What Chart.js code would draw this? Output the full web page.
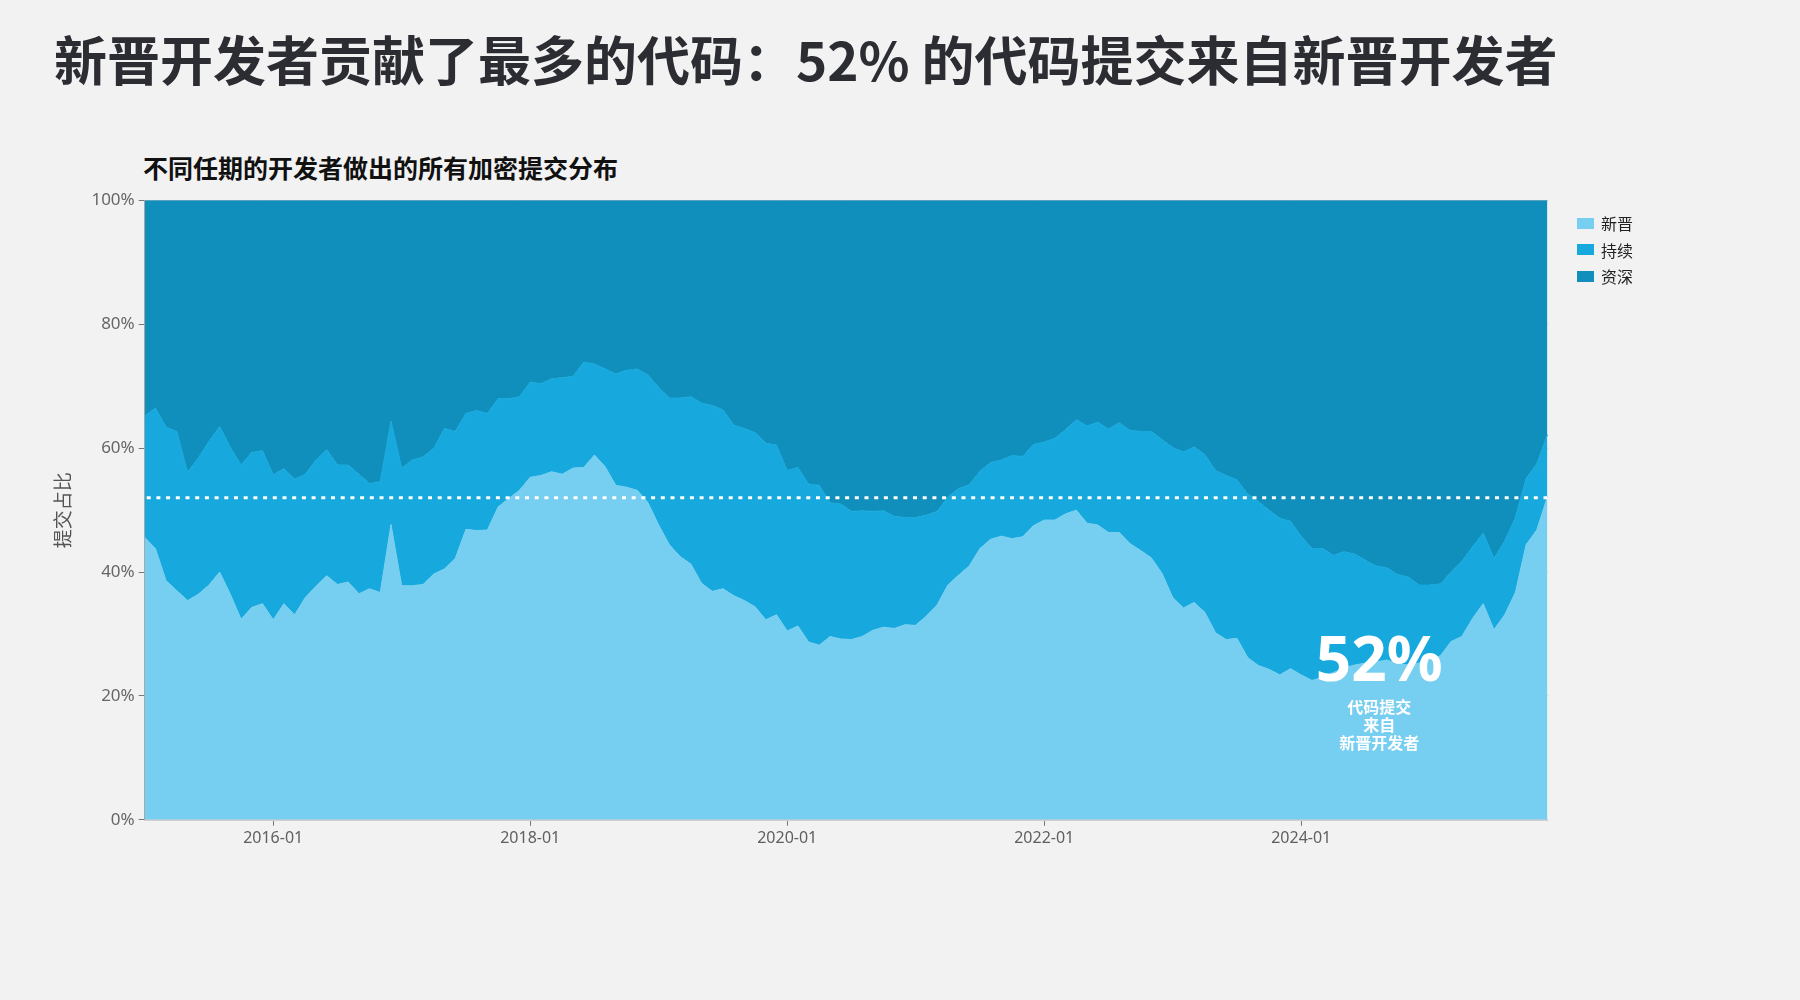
<!DOCTYPE html>
<html lang="zh-CN">
<head>
<meta charset="utf-8">
<script src="https://cdn.jsdelivr.net/npm/chart.js@4/dist/chart.umd.min.js"></script>
<style>
  html, body { margin: 0; padding: 0; background: #f2f2f2; }
  #wrap { position: relative; width: 1800px; height: 1000px; overflow: hidden; }
  #title { position: absolute; left: 54px; top: 32px; margin: 0; font: 700 53px/53px 'Noto Sans CJK SC', 'Noto Sans', sans-serif; color: #2b2d33; white-space: nowrap; }
  #subtitle { position: absolute; left: 143px; top: 155px; margin: 0; font: 700 25px/25px 'Noto Sans CJK SC', sans-serif; color: #111; white-space: nowrap; }
  #chart { position: absolute; left: 0; top: 0; }
  #legend { position: absolute; left: 1577px; top: 213px; font: 400 16px/16px 'Noto Sans CJK SC', sans-serif; color: #222; }
  .li { display: flex; align-items: center; height: 20px; margin-bottom: 6.5px; }
  .sw { width: 17px; height: 11px; margin-right: 7px; }
</style>
</head>
<body>
<div id="wrap">
  <h1 id="title">新晋开发者贡献了最多的代码：52% 的代码提交来自新晋开发者</h1>
  <div id="subtitle">不同任期的开发者做出的所有加密提交分布</div>
  <canvas id="chart" width="1800" height="1000"></canvas>
  <div id="legend"></div>
</div>
<script>
// ---- categories (monthly, 2015-01 .. 2025-12) ----
const months = [];
for (let y = 2015; y <= 2025; y++) for (let m = 1; m <= 12; m++) months.push(y + '-' + String(m).padStart(2, '0'));

const xTickLabels = ['2016-01', '2018-01', '2020-01', '2022-01', '2024-01'];
const yTickValues = [0, 20, 40, 60, 80, 100];
const seriesNames = ['新晋', '持续', '资深'];
const seriesColors = ['#76cef0', '#17a9dd', '#118fbc'];
const overallNewShare = 52;

// share of commits (%) by tenure
const newDev = [
  45.6, 43.8, 38.6, 37.0, 35.4, 36.4, 37.9, 40.0, 36.4, 32.4, 34.3, 34.9,
  32.3, 34.9, 33.1, 35.9, 37.7, 39.4, 38.0, 38.4, 36.5, 37.3, 36.7, 47.7,
  37.8, 37.8, 38.0, 39.7, 40.5, 42.2, 46.9, 46.7, 46.8, 50.5, 51.9, 53.2,
  55.3, 55.6, 56.2, 55.8, 56.8, 56.9, 58.9, 57.0, 54.0, 53.7, 53.2, 51.2,
  47.6, 44.4, 42.5, 41.3, 38.2, 36.9, 37.3, 36.2, 35.4, 34.4, 32.3, 33.1,
  30.5, 31.3, 28.7, 28.2, 29.6, 29.2, 29.1, 29.6, 30.6, 31.1, 30.9, 31.5,
  31.4, 32.9, 34.7, 37.9, 39.5, 41.0, 43.8, 45.3, 45.8, 45.4, 45.7, 47.5,
  48.4, 48.4, 49.4, 50.0, 47.9, 47.6, 46.4, 46.4, 44.6, 43.5, 42.3, 39.8,
  35.9, 34.2, 35.1, 33.5, 30.2, 29.1, 29.3, 26.2, 24.9, 24.3, 23.4, 24.4,
  23.4, 22.5, 23.0, 23.8, 24.5, 25.0, 25.3, 25.5, 25.8, 25.2, 25.0, 25.3,
  25.8, 26.5, 28.8, 29.6, 32.5, 34.9, 30.7, 33.1, 36.7, 44.4, 46.8, 52.2
];
const sustainedDev = [
  19.6, 22.7, 24.8, 25.7, 20.7, 22.0, 23.2, 23.5, 23.7, 24.9, 25.0, 24.7,
  23.4, 21.8, 21.9, 19.9, 20.4, 20.4, 19.3, 18.9, 19.3, 17.0, 17.9, 16.7,
  19.0, 20.3, 20.6, 20.3, 22.7, 20.5, 18.7, 19.4, 18.8, 17.5, 16.1, 15.1,
  15.4, 14.8, 15.0, 15.6, 14.8, 17.0, 14.7, 15.8, 18.0, 18.9, 19.6, 20.6,
  22.2, 23.7, 25.6, 27.0, 29.1, 30.0, 28.9, 27.5, 27.8, 28.1, 28.5, 27.4,
  25.9, 25.6, 25.5, 25.8, 21.6, 21.8, 20.7, 20.3, 19.2, 18.8, 18.1, 17.3,
  17.4, 16.3, 15.1, 14.2, 14.0, 13.1, 12.5, 12.4, 12.3, 13.4, 13.0, 13.1,
  12.6, 13.2, 13.6, 14.6, 15.7, 16.6, 16.7, 17.7, 18.3, 19.2, 20.4, 21.6,
  24.2, 25.2, 25.1, 25.5, 26.2, 26.5, 25.6, 26.4, 26.5, 25.7, 25.3, 23.8,
  22.4, 21.3, 20.8, 18.9, 18.8, 17.9, 16.6, 15.5, 14.9, 14.4, 14.2, 12.6,
  12.1, 11.6, 11.2, 12.1, 11.6, 11.4, 11.5, 11.9, 12.1, 10.7, 10.7, 10.0
];
const seniorDev = [
  34.8, 33.5, 36.6, 37.3, 43.9, 41.6, 38.9, 36.5, 39.9, 42.7, 40.7, 40.4,
  44.3, 43.3, 45.0, 44.2, 41.9, 40.2, 42.7, 42.7, 44.2, 45.7, 45.4, 35.6,
  43.2, 41.9, 41.4, 40.0, 36.8, 37.3, 34.4, 33.9, 34.4, 32.0, 32.0, 31.7,
  29.3, 29.6, 28.8, 28.6, 28.4, 26.1, 26.4, 27.2, 28.0, 27.4, 27.2, 28.2,
  30.2, 31.9, 31.9, 31.7, 32.7, 33.1, 33.8, 36.3, 36.8, 37.5, 39.2, 39.5,
  43.6, 43.1, 45.8, 46.0, 48.8, 49.0, 50.2, 50.1, 50.2, 50.1, 51.0, 51.2,
  51.2, 50.8, 50.2, 47.9, 46.5, 45.9, 43.7, 42.3, 41.9, 41.2, 41.3, 39.4,
  39.0, 38.4, 37.0, 35.4, 36.4, 35.8, 36.9, 35.9, 37.1, 37.3, 37.3, 38.6,
  39.9, 40.6, 39.8, 41.0, 43.6, 44.4, 45.1, 47.4, 48.6, 50.0, 51.3, 51.8,
  54.2, 56.2, 56.2, 57.3, 56.7, 57.1, 58.1, 59.0, 59.3, 60.4, 60.8, 62.1,
  62.1, 61.9, 60.0, 58.3, 55.9, 53.7, 57.8, 55.0, 51.2, 44.9, 42.5, 37.8
];

const LATIN = "'Noto Sans', 'Noto Sans CJK SC', sans-serif";
const CJK = "'Noto Sans CJK SC', sans-serif";

function ds(label, data, color, fill) {
  return { label, data, backgroundColor: color, borderColor: color, borderWidth: 1,
           fill, pointRadius: 0, pointHoverRadius: 0, tension: 0 };
}

const overlay = {
  id: 'overlay',
  afterDraw(chart) {
    const { ctx, chartArea: a, scales } = chart;
    const y = scales.y.getPixelForValue(overallNewShare);
    ctx.save();
    ctx.strokeStyle = '#ffffff';
    ctx.lineWidth = 2.8;
    ctx.setLineDash([4, 5.7]);
    ctx.beginPath();
    ctx.moveTo(a.left + 2, y);
    ctx.lineTo(a.right, y);
    ctx.stroke();
    ctx.setLineDash([]);
    // annotation
    const cx = a.left + (a.right - a.left) * 0.88;
    ctx.fillStyle = '#ffffff';
    ctx.textAlign = 'center';
    ctx.textBaseline = 'alphabetic';
    ctx.font = "700 62px " + LATIN;
    ctx.fillText(overallNewShare + '%', cx, a.top + 480);
    ctx.textBaseline = 'middle';
    ctx.font = "700 16px " + CJK;
    ctx.fillText('代码提交', cx, a.top + 506);
    ctx.fillText('来自', cx, a.top + 524);
    ctx.fillText('新晋开发者', cx, a.top + 542);
    ctx.restore();
  }
};

new Chart(document.getElementById('chart'), {
  type: 'line',
  data: {
    labels: months,
    datasets: [
      ds(seriesNames[0], newDev, seriesColors[0], 'origin'),
      ds(seriesNames[1], sustainedDev, seriesColors[1], '-1'),
      ds(seriesNames[2], seniorDev, seriesColors[2], '-1')
    ]
  },
  options: {
    responsive: false,
    animation: false,
    layout: { padding: { left: 0, right: 252.5, top: 200.5, bottom: 140.2 } },
    plugins: { legend: { display: false }, tooltip: { enabled: false }, title: { display: false } },
    scales: {
      x: {
        offset: false,
        afterFit(s) { s.height = 40; },
        grid: { display: true, drawOnChartArea: false, drawTicks: true, tickLength: 6, tickColor: '#777' },
        border: { display: true, color: '#cfcfcf', width: 2 },
        ticks: {
          autoSkip: false, maxRotation: 0, padding: 3, color: '#5f5f5f',
          font: { family: LATIN, size: 16 },
          callback(v) { const l = this.getLabelForValue(v); return xTickLabels.includes(l) ? l : null; }
        }
      },
      y: {
        stacked: true, min: 0, max: 100, z: 1,
        afterFit(s) { s.width = 144.7; },
        afterBuildTicks(s) { s.ticks = yTickValues.map(v => ({ value: v })); },
        grid: { color: 'rgba(175,175,175,0.85)', lineWidth: 1, tickLength: 6, tickColor: '#777' },
        border: { display: true, color: '#a8a8a8', width: 1 },
        ticks: { padding: 4, color: '#666', font: { family: LATIN, size: 17 }, callback: v => v + '%' },
        title: { display: true, text: '提交占比', color: '#555', font: { family: CJK, size: 19 }, padding: { top: 51, bottom: 0 } }
      }
    }
  },
  plugins: [overlay]
});

// legend
const lg = document.getElementById('legend');
seriesNames.forEach((n, i) => {
  const d = document.createElement('div'); d.className = 'li';
  const s = document.createElement('span'); s.className = 'sw'; s.style.background = seriesColors[i];
  const t = document.createElement('span'); t.textContent = n;
  d.appendChild(s); d.appendChild(t); lg.appendChild(d);
});
</script>
</body>
</html>
